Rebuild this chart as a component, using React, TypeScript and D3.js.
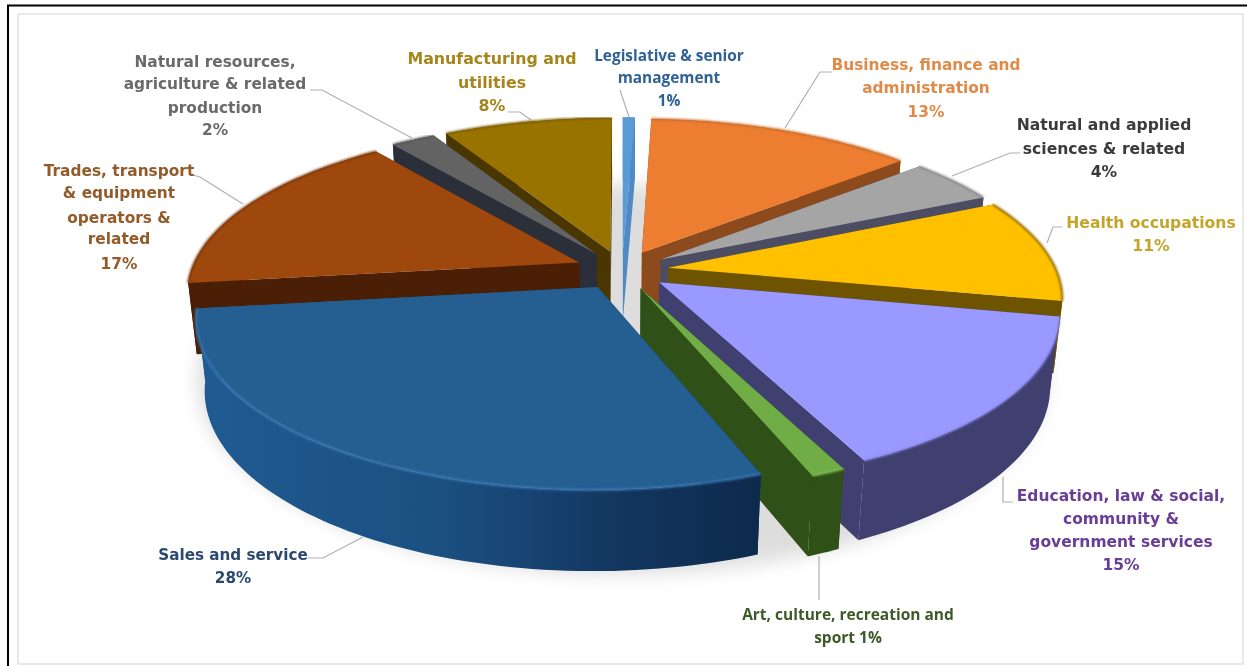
import React from "react";
import * as d3 from "d3";

const names = ["Legislative","Business","Applied","Health","Education","Art","Sales","Trades","Resources","Manufacturing"];
const shares = [0.6, 13.1, 4.4, 10.1, 14.8, 1.2, 28.8, 16.5, 2.2, 8.3];
const topColors = ["#5b9bd5","#ed7d31","#a5a5a5","#ffc000","#9999ff","#70ad47","#255e91","#9e480e","#636363","#997300"];
const wallColors = ["#4f8ac4","#8c4a1d","#4c4c62","#6e5400","#3f3f70","#2f5016","url(#salesWall)","#4a1f05","#2a2f3a","#4a3600"];
const rimColors = ["#5b9bd5","#c96a26","#8a8a8a","#8a6c00","#8c8cf0","#7fbb55","#3a78b4","#7a3608","#555","#7a5c00"];
const explode = [0.12,0.12,0.12,0.12,0.12,0.12,0.12,0.12,0.12,0.12];
const paintOrder = [0,9,8,1,2,7,3,4,5,6];

const labelLines = [
  ["Legislative & senior","management","1%"],
  ["Business, finance and","administration","13%"],
  ["Natural and applied","sciences & related","4%"],
  ["Health occupations","11%"],
  ["Education, law & social,","community &","government services","15%"],
  ["Art, culture, recreation and","sport 1%"],
  ["Sales and service","28%"],
  ["Trades, transport","& equipment","operators &","related","17%"],
  ["Natural resources,","agriculture & related","production","2%"],
  ["Manufacturing and","utilities","8%"],
];
const labelColors = ["#2f6296","#e08a48","#3a3a3a","#c4a52a","#6a3d96","#3c5a28","#2b4a6e","#935a2a","#6a6a6a","#a5851a"];
const labelX = [669,926,1104,1151,1121,848,233,119,215,492];
const labelFont = ["'Open Sans'","'DejaVu Sans'","'DejaVu Sans'","'DejaVu Sans'","'DejaVu Sans'","'Open Sans'","'DejaVu Sans'","'DejaVu Sans'","'DejaVu Sans'","'DejaVu Sans'"];
const labelSize = [15.4,15.4,15.6,15.6,15.5,15.5,15.2,15.4,15.4,15.8];
const labelY = [[56,78,101],[65,88,112],[125,149,172],[223,246],[496,519,542,565],[615,638],[555,578],[171,193,218,239,264],[62,84,108,130],[58,82,105]];
const leaders: [number,number][][] = [
  [[620,90],[629,117]],
  [[832,72],[820,72],[785,128]],
  [[1020,153],[1010,153],[952,176]],
  [[1062,227],[1053,227],[1047,243]],
  [[1013,502],[1003,502],[1003,477]],
  [[819,556],[819,600]],
  [[308,558],[323,558],[363,537]],
  [[193,175],[200,177],[243,204]],
  [[310,90],[322,90],[412,138]],
  [[508,112],[520,112],[531,120]],
];

const cx = 622, cy = 270, A = 388, B = 162, D = 72, k = 0.17, m = 0.02;
function project(X: number, Y: number, Z: number): [number, number] {
  const w = 1 - k * Y + m * Z;
  return [cx + (A * X) / w, cy + (B * Y + D * Z) / w];
}

const pie = d3.pie<number>().sort(null).value((d) => d);
const arcs = pie(shares);
const line = d3.line();

function pt(a: number, r: number, e: number, mid: number, Z: number) {
  return project(r * Math.sin(a) + e * Math.sin(mid), -r * Math.cos(a) - e * Math.cos(mid), Z);
}

function slicePaths(i: number) {
  const { startAngle: a0, endAngle: a1 } = arcs[i];
  const mid = (a0 + a1) / 2, e = explode[i];
  const n = Math.max(6, Math.ceil((a1 - a0) * 40));
  const ang = d3.range(n + 1).map((j) => a0 + ((a1 - a0) * j) / n);
  const outerTop = ang.map((a) => pt(a, 1, e, mid, 0));
  const outerBot = ang.map((a) => pt(a, 1, e, mid, 1));
  const tipTop = pt(0, 0, e, mid, 0), tipBot = pt(0, 0, e, mid, 1);
  return {
    top: line([tipTop, ...outerTop])! + "Z",
    rim: line(outerTop)!,
    outer: line([...outerTop, ...[...outerBot].reverse()])! + "Z",
    wallA: line([tipTop, outerTop[0], outerBot[0], tipBot])! + "Z",
    wallB: line([tipTop, outerTop[n], outerBot[n], tipBot])! + "Z",
  };
}

const shadowPts = d3.range(73).map((j) => pt((j / 72) * 2 * Math.PI, 1.1, 0, 0, 1.05));

export default function App() {
  return (
    <svg width={1247} height={666} style={{ position: "absolute", left: 0, top: 0, background: "#fff" }}>
      <defs>
        <linearGradient id="salesWall" gradientUnits="userSpaceOnUse" x1={195} x2={760} y1={0} y2={0}>
          <stop offset="0" stopColor="#1f5b92" />
          <stop offset="0.45" stopColor="#1b4f80" />
          <stop offset="0.75" stopColor="#12365f" />
          <stop offset="1" stopColor="#0d2a4c" />
        </linearGradient>
        <filter id="soft" x="-20%" y="-20%" width="140%" height="140%"><feGaussianBlur stdDeviation="9" /></filter>
        <filter id="rim" x="-5%" y="-5%" width="110%" height="110%"><feGaussianBlur stdDeviation="1.2" /></filter>
        <filter id="txt"><feGaussianBlur stdDeviation="0.35" /></filter>
      </defs>
      <rect x={18} y={14} width={1225} height={650} fill="#fff" stroke="#e2e2e2" strokeWidth={1.5} />
      <path d="M8,666V5.5H1247" fill="none" stroke="#000" strokeWidth={2} />
      <path d={line(shadowPts)! + "Z"} fill="#b5b5b5" opacity={0.45} filter="url(#soft)" />
      {leaders.map((l, i) => (
        <path key={i} d={line(l)!} fill="none" stroke="#b0b0b0" strokeWidth={1.2} />
      ))}
      {paintOrder.map((i) => {
        const p = slicePaths(i);
        return (
          <g key={names[i]}>
            <path d={p.wallA} fill={wallColors[i]} />
            <path d={p.wallB} fill={wallColors[i]} />
            <path d={p.outer} fill={wallColors[i]} />
            <path d={p.top} fill={topColors[i]} />
            <path d={p.rim} fill="none" stroke={rimColors[i]} strokeWidth={2} filter="url(#rim)" />
          </g>
        );
      })}
      <g filter="url(#txt)" fontWeight={700} textAnchor="middle">
        {labelLines.map((ls, i) =>
          ls.map((s, j) => (
            <text key={i + "-" + j} x={labelX[i]} y={labelY[i][j]} dy="0.35em" fontFamily={labelFont[i]} fontSize={labelSize[i]} fill={labelColors[i]}>{s}</text>
          ))
        )}
      </g>
    </svg>
  );
}
